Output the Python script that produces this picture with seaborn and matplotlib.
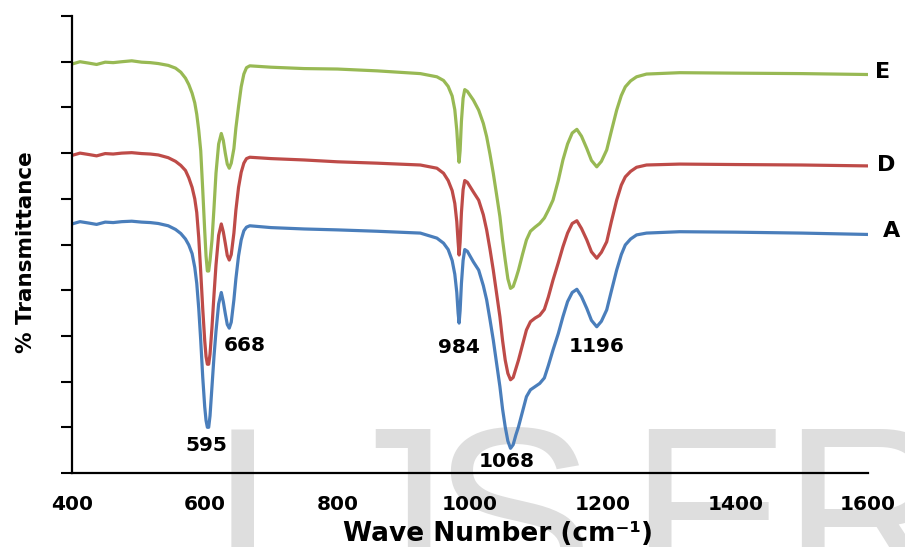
import seaborn as sns
import matplotlib.pyplot as plt
import pandas as pd
import numpy as np

# wave numbers (cm-1)
wavenumber = [400, 412, 425, 437, 450, 462, 475, 490, 505, 518, 530, 545, 556, 564, 571, 576,
              581, 585, 588, 591, 594, 597, 600, 602, 604, 606, 608, 611, 614, 617, 621, 625,
              628, 631, 634, 637, 640, 644, 647, 651, 655, 659, 663, 668, 700, 750, 800, 860,
              925, 950, 960, 967, 973, 977, 980, 982, 983.5, 985, 987, 989.5, 992, 996, 1005,
              1013, 1020, 1025, 1030, 1035, 1040, 1045, 1049, 1053, 1057, 1061, 1065, 1069,
              1073, 1079, 1085, 1091, 1098, 1105, 1112, 1118, 1125, 1133, 1140, 1147, 1154,
              1161, 1168, 1176, 1183, 1191, 1198, 1206, 1213, 1221, 1228, 1234, 1242, 1251,
              1266, 1316, 1400, 1500, 1600]

# % transmittance (offset scale 0-100)
trans_E = [89.5, 90.0, 89.7, 89.4, 89.9, 89.8, 90.0, 90.2, 89.9, 89.8, 89.6, 89.2, 88.6, 87.7, 86.4, 85.0,
           83.1, 81.0, 78.5, 75.0, 70.5, 62.0, 53.0, 47.5, 44.2, 44.2, 46.5, 51.0, 58.0, 65.6, 72.0, 74.3,
           72.8, 70.0, 67.6, 66.7, 67.8, 71.0, 75.5, 80.2, 84.5, 87.3, 88.7, 89.1, 88.8, 88.5, 88.4, 88.0,
           87.4, 86.7, 85.9, 84.6, 82.5, 79.5, 75.0, 70.5, 68.0, 70.5, 77.0, 82.0, 83.9, 83.5, 81.6,
           79.4, 76.5, 73.6, 69.8, 65.6, 60.9, 56.1, 51.0, 46.6, 42.5, 40.4, 40.8, 42.5,
           44.4, 47.8, 51.0, 52.9, 53.8, 54.6, 55.8, 57.5, 59.7, 64.0, 68.5, 72.0, 74.4,
           75.2, 73.7, 71.0, 68.4, 67.0, 68.2, 70.7, 74.8, 79.4, 82.6, 84.5, 85.8, 86.7,
           87.3, 87.6, 87.5, 87.4, 87.2]
trans_D = [69.5, 70.0, 69.7, 69.4, 69.9, 69.8, 70.0, 70.1, 69.9, 69.8, 69.6, 69.0, 68.2, 67.3, 66.2, 64.6,
           62.5, 60.0, 57.0, 51.5, 44.0, 36.0, 29.0, 25.5, 23.8, 23.8, 26.0, 32.0, 39.0, 45.5, 52.0, 54.5,
           52.8, 50.3, 47.6, 46.6, 47.8, 52.5, 57.5, 62.5, 65.8, 67.8, 68.8, 69.1, 68.8, 68.5, 68.1, 67.8,
           67.4, 66.7, 65.6, 64.0, 61.8, 59.0, 55.0, 50.5, 47.7, 50.5, 57.0, 62.0, 64.0, 63.6, 61.5,
           59.7, 56.5, 53.2, 49.0, 44.4, 39.3, 34.2, 29.0, 24.7, 21.8, 20.4, 20.9, 22.8,
           24.7, 28.0, 31.3, 33.1, 33.9, 34.5, 35.8, 38.5, 42.2, 46.0, 49.5, 52.5, 54.6,
           55.2, 53.5, 51.0, 48.4, 47.0, 48.3, 50.6, 55.0, 59.7, 63.0, 64.8, 66.0, 66.9,
           67.4, 67.6, 67.5, 67.4, 67.2]
trans_A = [54.5, 55.0, 54.7, 54.4, 54.9, 54.8, 55.0, 55.1, 54.9, 54.8, 54.6, 54.1, 53.3, 52.4, 51.2, 49.9,
           48.0, 45.0, 41.5, 36.0, 29.0, 21.0, 14.5, 11.5, 10.0, 10.0, 12.5, 19.0, 25.5, 31.0, 37.0, 39.5,
           37.5, 34.9, 32.5, 31.7, 33.0, 37.9, 42.5, 47.5, 51.0, 53.0, 53.8, 54.1, 53.7, 53.4, 53.2, 52.9,
           52.5, 51.4, 50.3, 48.9, 46.5, 43.5, 39.5, 35.0, 32.8, 35.5, 41.5, 46.5, 48.9, 48.5, 46.2,
           44.4, 41.0, 37.9, 33.6, 29.1, 24.0, 18.9, 14.0, 10.1, 7.0, 5.4, 6.2, 8.3,
           10.1, 13.4, 16.7, 18.2, 18.9, 19.6, 20.8, 23.5, 26.9, 30.5, 34.2, 37.5, 39.5,
           40.2, 38.6, 36.0, 33.4, 32.0, 33.2, 35.7, 39.8, 44.4, 47.8, 49.9, 51.2, 52.1,
           52.5, 52.8, 52.7, 52.5, 52.2]

series_names = ["A", "D", "E"]
series_colors = ["#4a7ebb", "#be4b48", "#98b954"]
peak_labels = ["595", "668", "984", "1068", "1196"]
peak_pos = [(603, 6), (660, 28), (983, 27.5), (1055, 2.6), (1191, 27.6)]
end_label_pos = [(1622, 53.0), (1613, 67.4), (1610, 87.7)]

df = pd.concat([
    pd.DataFrame({"wn": wavenumber, "T": vals, "sample": name})
    for name, vals in zip(series_names, [trans_A, trans_D, trans_E])
])

sns.set_style("white", {"text.color": "black", "axes.labelcolor": "black",
                        "xtick.color": "black", "ytick.color": "black"})
fig = plt.figure(figsize=(9.05, 5.47), dpi=100)
ax = fig.add_axes([0.0796, 0.1353, 0.8796, 0.8354])
ax.patch.set_alpha(0)

# IJSER watermark behind the plot
for letter, xpos in zip("IJSER", [0.23, 0.36, 0.477, 0.694, 0.863]):
    fig.text(xpos, -0.091, letter, fontsize=175, color="#dedede", family="Liberation Sans",
             ha="left", va="baseline", zorder=-5)

sns.lineplot(data=df, x="wn", y="T", hue="sample", palette=series_colors,
             linewidth=2.3, legend=False, ax=ax, sort=False)

ax.set_xlim(400, 1600)
ax.set_ylim(0, 100)
ax.set_xticks(range(400, 1601, 200))
ax.set_yticks(range(0, 101, 10))
ax.set_yticklabels([])
for lab in ax.get_xticklabels():
    lab.set_fontweight("bold")
ax.tick_params(axis="x", direction="out", length=6, width=1.5, labelsize=14.5, pad=10)
ax.tick_params(axis="y", direction="out", length=8, width=1.5, left=True)
for s in ["top", "right"]:
    ax.spines[s].set_visible(False)
for s in ["left", "bottom"]:
    ax.spines[s].set_color("black")
    ax.spines[s].set_linewidth(1.6)

ax.set_xlabel("Wave Number (cm⁻¹)", fontsize=19, fontweight="bold")
ax.xaxis.set_label_coords(0.535, -0.105)
ax.set_ylabel("% Transmittance", fontsize=15.5, fontweight="bold")
ax.yaxis.set_label_coords(-0.045, 0.484)

for txt, (x, y) in zip(peak_labels, peak_pos):
    ax.text(x, y, txt, fontsize=14.5, fontweight="bold", ha="center", va="center")
for txt, (x, y) in zip(series_names, end_label_pos):
    ax.text(x, y, txt, fontsize=16, fontweight="bold", ha="left", va="center", clip_on=False)

plt.savefig("out.png", dpi=100)
